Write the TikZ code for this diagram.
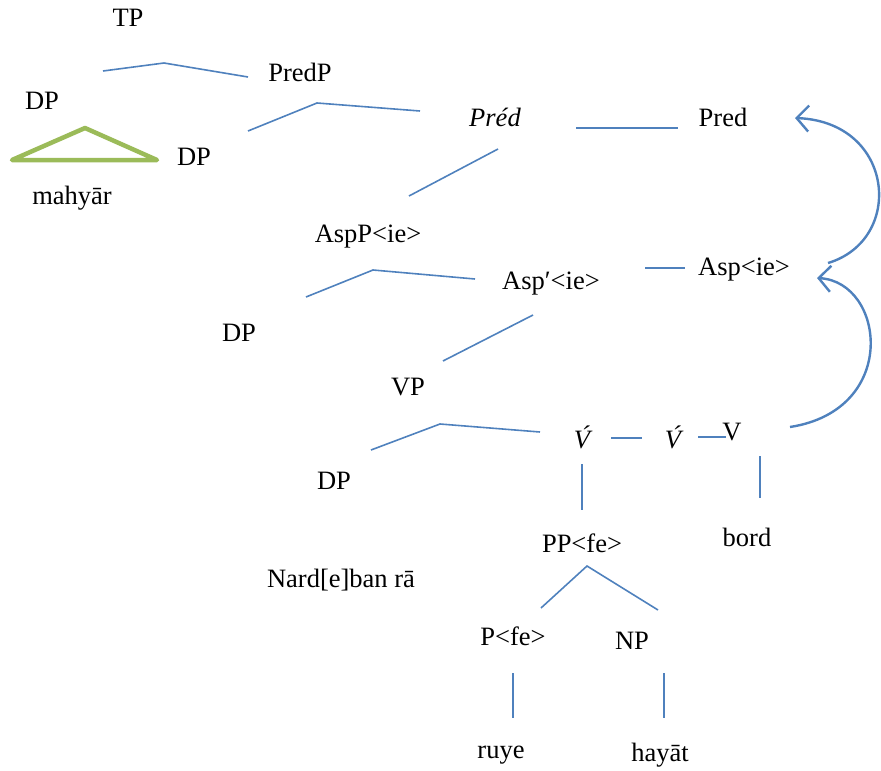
\documentclass[tikz,border=0pt]{standalone}
\usepackage{fontspec}
\setmainfont{Liberation Serif}
\usetikzlibrary{arrows.meta}
\tikzset{
  lbl/.style={inner sep=0pt, font=\fontsize{26.5}{30}\selectfont},
  branch/.style={draw=blueln, line width=1.6pt},
  tri/.style={draw=greenln, line width=4.5pt, line join=round},
  move/.style={draw=blueln, line width=2.4pt, -{Straight Barb[length=12pt,width=26pt,line width=2.4pt]}}
}
\definecolor{blueln}{HTML}{4F81BD}
\definecolor{greenln}{HTML}{9BBB59}
\begin{document}
\begin{tikzpicture}[x=1pt,y=-1pt]
\useasboundingbox (0,0) rectangle (881,771);
% labels
\node[lbl] (tp) at (128,18) {TP};
\node[lbl] (predp) at (300,72) {PredP};
\node[lbl] (dpa) at (42,101) {DP};
\node[lbl] (dpb) at (194,157) {DP};
\node[lbl] (mah) at (72,198) {mahyār};
\node[lbl] (predbar) at (495,117) {\itshape Pr\'ed};
\node[lbl] (pred) at (723,117) {Pred};
\node[lbl] (aspp) at (368,237) {AspP<ie>};
\node[lbl] (aspbar) at (551,284) {Asp′<ie>};
\node[lbl] (asp) at (744,270) {Asp<ie>};
\node[lbl] (dpc) at (239,333) {DP};
\node[lbl] (vp) at (408,387) {VP};
\node[lbl] (vbara) at (582,437) {\itshape \'V};
\node[lbl] (vbarb) at (673,437) {\itshape \'V};
\node[lbl] (v) at (732,432) {V};
\node[lbl] (dpd) at (334,481) {DP};
\node[lbl] (bord) at (747,537) {bord};
\node[lbl] (pp) at (582,543) {PP<fe>};
\node[lbl] (nard) at (341,580) {Nard[e]ban rā};
\node[lbl] (pfe) at (513,636) {P<fe>};
\node[lbl] (np) at (632,641) {NP};
\node[lbl] (ruye) at (501,755) {ruye};
\node[lbl] (hayat) at (660,755) {hayāt};
% branch points
\coordinate (b1l) at (103,71); \coordinate (b1t) at (164,63); \coordinate (b1r) at (248,77);
\coordinate (b2l) at (248,131); \coordinate (b2t) at (317,103); \coordinate (b2r) at (420,111);
\coordinate (b3l) at (576,128); \coordinate (b3r) at (678,128);
\coordinate (b4a) at (498,149); \coordinate (b4b) at (409,196);
\coordinate (b5l) at (306,297); \coordinate (b5t) at (373,270); \coordinate (b5r) at (475,279);
\coordinate (b6l) at (645,268); \coordinate (b6r) at (685,268);
\coordinate (b7a) at (533,315); \coordinate (b7b) at (443,361);
\coordinate (b8l) at (371,450); \coordinate (b8t) at (440,424); \coordinate (b8r) at (540,432);
\coordinate (b9l) at (611,438); \coordinate (b9r) at (642,438);
\coordinate (b10l) at (698,437); \coordinate (b10r) at (726,437);
\coordinate (b11a) at (582,464); \coordinate (b11b) at (582,510);
\coordinate (b12a) at (760,456); \coordinate (b12b) at (760,498);
\coordinate (b13t) at (587,566); \coordinate (b13l) at (541,608); \coordinate (b13r) at (658,610);
\coordinate (b14a) at (513,673); \coordinate (b14b) at (513,718);
\coordinate (b15a) at (664,673); \coordinate (b15b) at (664,718);
% tree branches
\draw[branch] (b1l) -- (b1t) -- (b1r);
\draw[branch] (b2l) -- (b2t) -- (b2r);
\draw[branch] (b3l) -- (b3r);
\draw[branch] (b4a) -- (b4b);
\draw[branch] (b5l) -- (b5t) -- (b5r);
\draw[branch] (b6l) -- (b6r);
\draw[branch] (b7a) -- (b7b);
\draw[branch] (b8l) -- (b8t) -- (b8r);
\draw[branch] (b9l) -- (b9r);
\draw[branch] (b10l) -- (b10r);
\draw[branch] (b11a) -- (b11b);
\draw[branch] (b12a) -- (b12b);
\draw[branch] (b13l) -- (b13t) -- (b13r);
\draw[branch] (b14a) -- (b14b);
\draw[branch] (b15a) -- (b15b);
% triangle over mahyar
\coordinate (tl) at (12,160); \coordinate (tt) at (85,128); \coordinate (tr) at (157,160);
\draw[tri] (tl) -- (tt) -- (tr) -- cycle;
% head movement arrows
\coordinate (m1s) at (828,263); \coordinate (m1e) at (795,118);
\coordinate (m2s) at (790,427); \coordinate (m2e) at (817,278);
\draw[move] (m1s) .. controls (905,240) and (895,122) .. (m1e);
\draw[move] (m2s) .. controls (900,410) and (885,282) .. (m2e);
\end{tikzpicture}
\end{document}
